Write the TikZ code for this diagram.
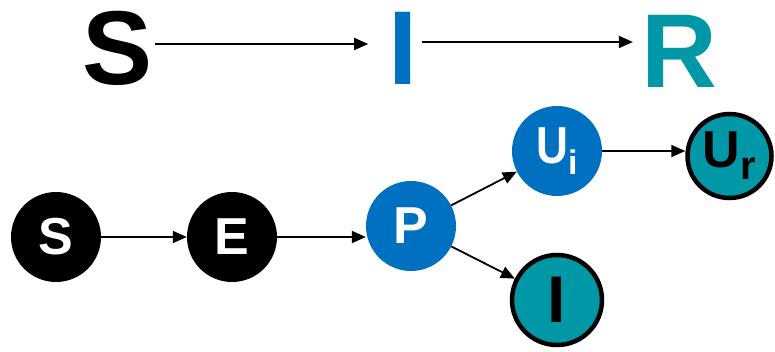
\documentclass[tikz,border=0pt]{standalone}
\usepackage{fontspec}
\setmainfont{Liberation Sans}
\usetikzlibrary{arrows.meta}
\definecolor{myblue}{RGB}{0,112,192}
\definecolor{myteal}{RGB}{0,151,167}
\tikzset{
  bigletter/.style={inner sep=0pt, font=\fontsize{105}{105}\selectfont\bfseries},
  arr/.style={line width=1.8pt, -{Triangle[length=14pt,width=12pt]}},
  dot/.style={circle, inner sep=0pt, minimum size=90pt, font=\fontsize{52}{52}\selectfont\bfseries},
  ringdot/.style={dot, draw=black, line width=4.5pt, fill=myteal, text=black},
}
\begin{document}
\begin{tikzpicture}[x=1pt,y=-1pt]
\useasboundingbox (0,0) rectangle (775,352);
% top row
\node[bigletter, anchor=base] (tS) at (118,85) {S};
\node[bigletter, anchor=base, text=myblue] (tI) at (403,85) {I};
\node[bigletter, anchor=base, text=myteal] (tR) at (679,88) {R};
\draw[arr, shorten <=2pt, shorten >=20pt] (tS.east |- 0,44) -- (tI.west |- 0,44);
\draw[arr, shorten <=4pt, shorten >=8pt] (tI.east |- 0,42) -- (tR.west |- 0,42);
% bottom row
\node[dot, fill=black, text=white] (S) at (56,237) {S};
\node[dot, fill=black, text=white] (E) at (232,237) {E};
\node[dot, fill=myblue, text=white] (P) at (411,226) {P};
\node[dot, fill=myblue, text=white] (Ui) at (557,151) {\scalebox{0.85}[1]{U}\raisebox{-11pt}{\fontsize{34}{34}\selectfont i}};
\node[ringdot, minimum size=84pt] (Ur) at (729.5,156) {U\raisebox{-12pt}{\fontsize{40}{40}\selectfont r}};
\node[ringdot, minimum size=90pt, font=\fontsize{66}{66}\selectfont\bfseries] (I) at (557,300) {I};
\draw[arr] (S) -- (E);
\draw[arr] (E) -- (E -| P.west);
\draw[arr] (P) -- (Ui);
\draw[arr] (P) -- (I);
\draw[arr] (Ui) -- (Ui -| Ur.west);
\end{tikzpicture}
\end{document}
